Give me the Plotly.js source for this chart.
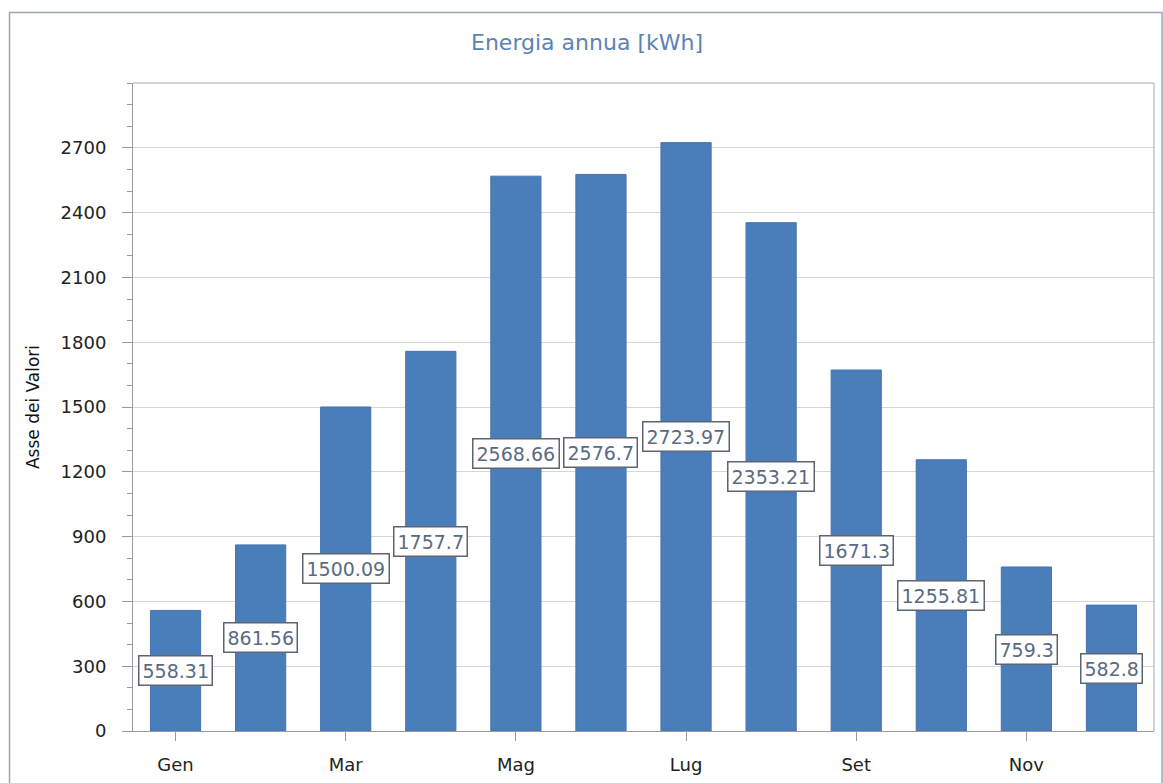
<!DOCTYPE html>
<html>
<head>
<meta charset="utf-8">
<script src="https://cdn.plot.ly/plotly-3.0.1.min.js"></script>
<style>
  html, body { margin: 0; padding: 0; background: #ffffff; }
  #chart { width: 1163px; height: 783px; }
</style>
</head>
<body>
<div id="chart"></div>
<script>
const months = ['Gen','Feb','Mar','Apr','Mag','Giu','Lug','Ago','Set','Ott','Nov','Dic'];
const energy = [558.31, 861.56, 1500.09, 1757.7, 2568.66, 2576.7, 2723.97, 2353.21, 1671.3, 1255.81, 759.3, 582.8];
const labelText = ['558.31','861.56','1500.09','1757.7','2568.66','2576.7','2723.97','2353.21','1671.3','1255.81','759.3','582.8'];
const shownTicks = ['Gen','Mar','Mag','Lug','Set','Nov'];
const yTicks = [0, 300, 600, 900, 1200, 1500, 1800, 2100, 2400, 2700];

const W = 1163, H = 783;
const L = 133, R = 9, T = 83, B = 52;
const pw = W - L - R, ph = H - T - B;
function px(x) { return (x - L) / pw; }
function py(y) { return 1 - (y - T) / ph; }

const trace = {
  type: 'bar',
  x: months,
  y: energy,
  marker: { color: '#4a7ebb', line: { color: '#4474b0', width: 1 } },
  hoverinfo: 'x+y'
};

const annotations = months.map((m, i) => ({
  x: m, y: energy[i] / 2, xref: 'x', yref: 'y',
  text: labelText[i], showarrow: false,
  font: { family: 'DejaVu Sans, sans-serif', size: 19, color: '#5a6a84' },
  bgcolor: '#ffffff', bordercolor: '#5c6570', borderwidth: 1.5, borderpad: 3
}));

const layout = {
  width: W, height: H,
  margin: { l: L, r: R, t: T, b: B, pad: 0 },
  paper_bgcolor: '#ffffff',
  plot_bgcolor: '#ffffff',
  showlegend: false,
  bargap: 0.41,
  title: {
    text: 'Energia annua [kWh]',
    x: 587 / W, xanchor: 'center', xref: 'container',
    y: 1 - 42 / H, yanchor: 'middle', yref: 'container',
    font: { family: 'DejaVu Sans, sans-serif', size: 22, color: '#5b83b3' }
  },
  xaxis: {
    type: 'category',
    tickmode: 'array', tickvals: shownTicks, ticktext: shownTicks,
    ticks: 'outside', ticklen: 9, tickcolor: '#9a9a9a', tickwidth: 1,
    showline: true, linecolor: '#9a9a9a', linewidth: 1,
    showgrid: false, zeroline: false, mirror: false,
    tickfont: { family: 'DejaVu Sans, sans-serif', size: 18, color: '#222222' },
    ticklabelstandoff: 8
  },
  yaxis: {
    range: [0, 3000],
    tickmode: 'array', tickvals: yTicks, ticktext: yTicks.map(String),
    ticks: 'outside', ticklen: 10, tickcolor: '#9a9a9a', tickwidth: 1,
    minor: { dtick: 100, tick0: 0, ticks: 'outside', ticklen: 5, tickcolor: '#9a9a9a', showgrid: false },
    showline: true, linecolor: '#9a9a9a', linewidth: 1,
    showgrid: true, gridcolor: '#d6d6d6', gridwidth: 1,
    zeroline: false,
    tickfont: { family: 'DejaVu Sans, sans-serif', size: 18, color: '#222222' },
    ticklabelstandoff: 12,
    title: {
      text: 'Asse dei Valori',
      font: { family: 'DejaVu Sans, sans-serif', size: 17, color: '#111111' },
      standoff: 16
    }
  },
  shapes: [
    { type: 'line', xref: 'paper', yref: 'paper', x0: 0, x1: 1, y0: 1, y1: 1, line: { color: '#a8a8a8', width: 1 } },
    { type: 'line', xref: 'paper', yref: 'paper', x0: 1, x1: 1, y0: 0, y1: 1, line: { color: '#a8a8a8', width: 1 } },
    { type: 'rect', xref: 'paper', yref: 'paper', x0: px(9.5), x1: px(1162), y0: py(12.5), y1: py(800), line: { color: '#9aa6b8', width: 1.5 }, fillcolor: 'rgba(0,0,0,0)', layer: 'below' }
  ],
  annotations: annotations
};

Plotly.newPlot('chart', [trace], layout, { displayModeBar: false, staticPlot: true });
</script>
</body>
</html>
